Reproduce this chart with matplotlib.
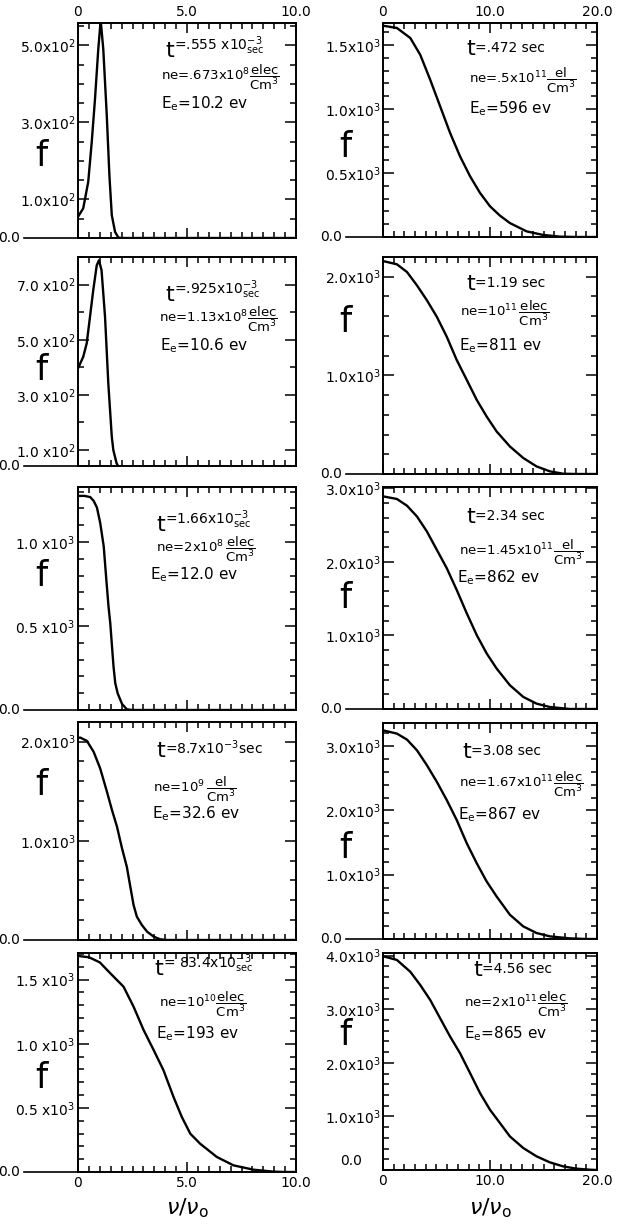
import numpy as np
import matplotlib.pyplot as plt
from matplotlib.ticker import MultipleLocator

plt.rcParams['font.family'] = ['DejaVu Sans']
plt.rcParams['mathtext.fontset'] = 'dejavusans'

x_l1 = [0, 0.24, 0.47, 0.63, 0.78, 0.93, 1.04, 1.16, 1.32, 1.44, 1.55, 1.70, 1.85, 2.0, 10.0]
f_l1 = [55, 77, 146, 249, 361, 490, 565, 490, 318, 163, 59, 16, 1, 0, 0]

x_l2 = [0, 0.24, 0.40, 0.55, 0.70, 0.86, 0.96, 1.08, 1.24, 1.39, 1.55, 1.62, 1.77, 1.93, 2.1, 10.0]
f_l2 = [396, 438, 487, 583, 680, 770, 788, 752, 583, 342, 148, 100, 52, 28, 0, 0]

x_l3 = [0, 0.3, 0.56, 0.72, 0.87, 1.02, 1.18, 1.30, 1.40, 1.48, 1.56, 1.63, 1.71, 1.82, 2.02, 2.24, 2.5, 10.0]
f_l3 = [1275, 1275, 1268, 1245, 1205, 1113, 974, 775, 616, 517, 378, 258, 159, 99, 36, 4, 0, 0]

x_l4 = [0, 0.11, 0.41, 0.72, 1.02, 1.33, 1.56, 1.79, 2.02, 2.24, 2.40, 2.55, 2.70, 2.93, 3.17, 3.47, 3.77, 4.08, 10.0]
f_l4 = [2040, 2040, 2007, 1896, 1728, 1493, 1309, 1141, 923, 738, 537, 352, 235, 151, 84, 34, 7, 0, 0]

x_l5 = [0, 0.5, 1.0, 1.48, 2.09, 2.55, 3.01, 3.47, 3.92, 4.38, 4.76, 5.15, 5.6, 6.37, 7.13, 8.05, 8.96, 9.5, 10.0]
f_l5 = [1685, 1675, 1635, 1550, 1445, 1289, 1107, 951, 794, 586, 430, 299, 221, 117, 52, 18, 3, 0, 0]

# --- right column (x from 0 to 20) ---
x_r1 = [0, 1.30, 2.55, 3.48, 4.41, 5.34, 6.27, 7.20, 8.14, 9.07, 10.0, 10.93, 11.86, 13.42, 14.97, 16.52, 18.07, 20.0]
f_r1 = [1651, 1633, 1555, 1424, 1229, 1021, 813, 630, 474, 344, 240, 167, 109, 44, 16, 3, 0, 0]

x_r2 = [0, 1.30, 2.24, 3.17, 4.10, 5.03, 5.96, 6.89, 7.83, 8.76, 9.69, 10.62, 11.86, 13.11, 14.35, 15.59, 16.83, 18.07, 20.0]
f_r2 = [2158, 2125, 2047, 1912, 1761, 1593, 1391, 1155, 953, 751, 582, 431, 279, 162, 77, 27, 3, 0, 0]

x_r3 = [0, 1.30, 2.24, 3.17, 4.10, 5.03, 5.96, 6.89, 7.83, 8.76, 9.69, 10.62, 11.86, 13.11, 14.35, 15.59, 17.45, 20.0]
f_r3 = [2891, 2855, 2764, 2618, 2414, 2164, 1914, 1618, 1300, 1005, 755, 550, 323, 164, 73, 27, 0, 0]

x_r4 = [0, 1.30, 2.24, 3.17, 4.10, 5.03, 5.96, 6.89, 7.83, 8.76, 9.69, 10.62, 11.86, 13.11, 14.35, 15.59, 17.45, 19.0, 20.0]
f_r4 = [3245, 3194, 3101, 2935, 2703, 2444, 2160, 1850, 1488, 1178, 894, 661, 377, 196, 93, 41, 10, 0, 0]

x_r5 = [0, 1.30, 2.55, 3.48, 4.41, 5.34, 6.27, 7.20, 8.14, 9.07, 10.0, 10.93, 11.86, 13.11, 14.35, 15.59, 16.83, 18.07, 19.3, 20.0]
f_r5 = [3990, 3920, 3700, 3453, 3174, 2832, 2491, 2180, 1807, 1435, 1124, 876, 627, 410, 255, 143, 68, 25, 6, 0]

# --- panel captions ---
t_text = [r'=.555 x10$^{-3}_{\mathrm{sec}}$', r'=.925x10$^{-3}_{\mathrm{sec}}$',
          r'=1.66x10$^{-3}_{\mathrm{sec}}$', r'=8.7x10$^{-3}$sec', r'= 83.4x10$^{-3}_{\mathrm{sec}}$',
          '=.472 sec', '=1.19 sec', '=2.34 sec', '=3.08 sec', '=4.56 sec']
ne_text = [r'ne=.673x10$^{8}\dfrac{\mathrm{elec}}{\mathrm{Cm^3}}$',
           r'ne=1.13x10$^{8}\dfrac{\mathrm{elec}}{\mathrm{Cm^3}}$',
           r'ne=2x10$^{8}\,\dfrac{\mathrm{elec}}{\mathrm{Cm^3}}$',
           r'ne=10$^{9}\,\dfrac{\mathrm{el}}{\mathrm{Cm^3}}$',
           r'ne=10$^{10}\dfrac{\mathrm{elec}}{\mathrm{Cm^3}}$',
           r'ne=.5x10$^{11}\dfrac{\mathrm{el}}{\mathrm{Cm^3}}$',
           r'ne=10$^{11}\,\dfrac{\mathrm{elec}}{\mathrm{Cm^3}}$',
           r'ne=1.45x10$^{11}\dfrac{\mathrm{el}}{\mathrm{Cm^3}}$',
           r'ne=1.67x10$^{11}\dfrac{\mathrm{elec}}{\mathrm{Cm^3}}$',
           r'ne=2x10$^{11}\dfrac{\mathrm{elec}}{\mathrm{Cm^3}}$']
ee_text = ['10.2 ev', '10.6 ev', '12.0 ev', '32.6 ev', '193 ev',
           '596 ev', '811 ev', '862 ev', '867 ev', '865 ev']

# --- y axes: limits, labelled ticks, minor step ---
ylims = [(0, 558), (42, 800), (0, 1328), (0, 2198), (0, 1708),
         (0, 1672), (0, 2199), (0, 3018), (0, 3359), (0, 4050)]
ymajor = [[100, 300, 500], [100, 300, 500, 700], [500, 1000], [1000, 2000], [500, 1000, 1500],
          [500, 1000, 1500], [1000, 2000], [1000, 2000, 3000], [1000, 2000, 3000],
          [1000, 2000, 3000, 4000]]
ylabels = [[r'1.0x10$^2$', r'3.0x10$^2$', r'5.0x10$^2$'],
           [r'1.0 x10$^2$', r'3.0 x10$^2$', r'5.0 x10$^2$', r'7.0 x10$^2$'],
           [r'0.5 x10$^3$', r'1.0 x10$^3$'],
           [r'1.0x10$^3$', r'2.0x10$^3$'],
           [r'0.5 x10$^3$', r'1.0 x10$^3$', r'1.5 x10$^3$'],
           [r'0.5x10$^3$', r'1.0x10$^3$', r'1.5x10$^3$'],
           [r'1.0x10$^3$', r'2.0x10$^3$'],
           [r'1.0x10$^3$', r'2.0x10$^3$', r'3.0x10$^3$'],
           [r'1.0x10$^3$', r'2.0x10$^3$', r'3.0x10$^3$'],
           [r'1.0x10$^3$', r'2.0x10$^3$', r'3.0x10$^3$', r'4.0x10$^3$']]
yminor = [50, 100, 100, 200, 100, 100, 200, 200, 200, 200]

xs = [x_l1, x_l2, x_l3, x_l4, x_l5, x_r1, x_r2, x_r3, x_r4, x_r5]
fs = [f_l1, f_l2, f_l3, f_l4, f_l5, f_r1, f_r2, f_r3, f_r4, f_r5]

# pixel boxes (x0, y0, x1, y1) of each frame in the 622x1231 figure
boxes = [(78, 23, 296, 238), (78, 257, 296, 466), (78, 487, 296, 710),
         (78, 722, 296, 940), (78, 953, 296, 1172),
         (383, 23, 597, 237), (383, 257, 597, 474), (383, 487, 597, 709),
         (383, 723, 597, 939), (383, 953, 597, 1170)]
# caption anchors in axes fraction: t line, ne line, Ee line
t_pos = [(0.40, 0.87), (0.40, 0.82), (0.36, 0.83), (0.36, 0.865), (0.35, 0.925),
         (0.39, 0.88), (0.39, 0.875), (0.39, 0.865), (0.37, 0.865), (0.42, 0.92)]
ne_pos = [(0.38, 0.745), (0.37, 0.70), (0.36, 0.72), (0.345, 0.69), (0.37, 0.765),
          (0.40, 0.73), (0.36, 0.74), (0.357, 0.705), (0.357, 0.715), (0.38, 0.765)]
ee_pos = [(0.38, 0.625), (0.375, 0.575), (0.33, 0.605), (0.34, 0.58), (0.36, 0.63),
          (0.40, 0.60), (0.357, 0.59), (0.345, 0.59), (0.35, 0.575), (0.38, 0.63)]
f_y = [0.38, 0.46, 0.60, 0.71, 0.43, 0.42, 0.70, 0.50, 0.42, 0.62]

W, H = 622, 1231
fig = plt.figure(figsize=(W / 100, H / 100), dpi=100)

for i in range(10):
    x0, y0, x1, y1 = boxes[i]
    ax = fig.add_axes([x0 / W, 1 - y1 / H, (x1 - x0) / W, (y1 - y0) / H])
    left = i < 5
    xmax = 10 if left else 20
    ax.plot(xs[i], fs[i], color='black', lw=1.7, solid_joinstyle='round')
    ax.set_xlim(0, xmax)
    ax.set_ylim(*ylims[i])

    for s in ax.spines.values():
        s.set_linewidth(1.4)

    ax.set_yticks(ymajor[i], ylabels[i])
    ax.yaxis.set_minor_locator(MultipleLocator(yminor[i]))
    ax.set_xticks([0, xmax / 2, xmax], ['0', f'{xmax / 2:.1f}', f'{xmax:.1f}'])
    ax.xaxis.set_minor_locator(MultipleLocator(xmax / 20))
    ax.tick_params(which='both', direction='in', left=True, right=True,
                   top=True, bottom=True, width=1.1)
    ax.tick_params(axis='y', which='major', length=8, labelsize=10, pad=2)
    ax.tick_params(axis='y', which='minor', length=4)
    ax.tick_params(axis='x', which='major', length=7)
    ax.tick_params(axis='x', which='minor', length=4)
    ax.tick_params(axis='x', labelbottom=(i in (4, 9)), labeltop=(i in (0, 5)),
                   labelsize=10, pad=3)

    # bottom "0.0" label with leader line
    if i == 9:
        ax.text(-0.1, 0.04, '0.0', transform=ax.transAxes, ha='right',
                va='center', fontsize=10)
    else:
        lead = 0.25 if left else 0.175
        ax.plot([-lead, 0], [0, 0], color='black', lw=1.2,
                transform=ax.transAxes, clip_on=False)
        ax.text(-lead - 0.015, 0, '0.0', transform=ax.transAxes, ha='right',
                va='center', fontsize=10)

    ax.text(-0.17 if left else -0.175, f_y[i], 'f', transform=ax.transAxes,
            ha='center', va='center', fontsize=25)

    tx, ty = t_pos[i]
    tt = ax.text(tx, ty, 't', transform=ax.transAxes, ha='left',
                 va='center', fontsize=16)
    ax.annotate(t_text[i], xy=(1, 0.2), xycoords=tt, ha='left', va='bottom',
                fontsize=10)
    nx, ny = ne_pos[i]
    ax.text(nx, ny, ne_text[i], transform=ax.transAxes, ha='left',
            va='center', fontsize=9.5)
    ex, ey = ee_pos[i]
    ax.text(ex, ey, r'E$_\mathrm{e}$=' + ee_text[i], transform=ax.transAxes,
            ha='left', va='center', fontsize=11)

fig.text(187 / W, 1 - 1208 / H, r'$\nu$/$\nu_\mathrm{o}$', ha='center',
         va='center', fontsize=16)
fig.text(490 / W, 1 - 1208 / H, r'$\nu$/$\nu_\mathrm{o}$', ha='center',
         va='center', fontsize=16)

fig.savefig('out.png', dpi=100, facecolor='white')
